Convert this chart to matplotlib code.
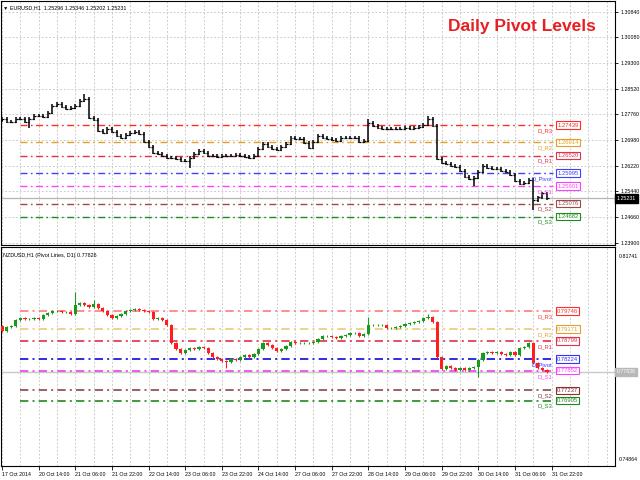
import numpy as np
import matplotlib.pyplot as plt
import matplotlib.transforms as mtransforms

plt.rcParams['font.family'] = ['Liberation Sans', 'DejaVu Sans']

# EURUSD, 2-hour closes
eur_close = [1.2763, 1.2754, 1.2754, 1.2763, 1.2763, 1.2754, 1.2763, 1.2772, 1.2772, 1.2769,
             1.2781, 1.2802, 1.2808, 1.2799, 1.2793, 1.2796, 1.2802, 1.2817, 1.2823, 1.2766,
             1.2760, 1.2727, 1.2721, 1.2733, 1.2724, 1.2712, 1.2706, 1.2715, 1.2721, 1.2724,
             1.2718, 1.2694, 1.2679, 1.2661, 1.2658, 1.2652, 1.2646, 1.2646, 1.2643, 1.2637,
             1.2637, 1.2646, 1.2658, 1.2667, 1.2661, 1.2652, 1.2652, 1.2649, 1.2652, 1.2652,
             1.2652, 1.2655, 1.2652, 1.2649, 1.2646, 1.2652, 1.2673, 1.2688, 1.2679, 1.2673,
             1.2670, 1.2679, 1.2688, 1.2706, 1.2703, 1.2703, 1.2691, 1.2676, 1.2694, 1.2712,
             1.2706, 1.2703, 1.2700, 1.2697, 1.2706, 1.2706, 1.2706, 1.2706, 1.2694, 1.2697,
             1.2751, 1.2742, 1.2736, 1.2733, 1.2733, 1.2733, 1.2733, 1.2733, 1.2736, 1.2733,
             1.2736, 1.2739, 1.2745, 1.2763, 1.2742, 1.2643, 1.2631, 1.2628, 1.2622, 1.2619,
             1.2607, 1.2589, 1.2583, 1.2586, 1.2604, 1.2622, 1.2616, 1.2613, 1.2613, 1.2607,
             1.2604, 1.2595, 1.2577, 1.2568, 1.2571, 1.2580, 1.2517, 1.2526, 1.2538, 1.25231]
eur_open0 = 1.2758
eur_high_spikes = {18: 1.2838, 80: 1.2763, 93: 1.2772, 115: 1.2586}
eur_low_spikes = {6: 1.2736, 41: 1.2616, 103: 1.2562, 116: 1.2487}

# NZDUSD, 2-hour closes
nzd_close = [0.7912, 0.7924, 0.7927, 0.7946, 0.7952, 0.7949, 0.7949, 0.7952, 0.7949, 0.7962,
             0.7968, 0.7975, 0.7975, 0.7971, 0.7971, 0.7965, 0.7994, 0.8000, 0.7994, 0.7987,
             0.7997, 0.7984, 0.7975, 0.7962, 0.7952, 0.7959, 0.7965, 0.7975, 0.7978, 0.7981,
             0.7978, 0.7975, 0.7971, 0.7949, 0.7952, 0.7946, 0.7930, 0.7873, 0.7854, 0.7842,
             0.7851, 0.7857, 0.7854, 0.7861, 0.7857, 0.7842, 0.7829, 0.7823, 0.7816, 0.7813,
             0.7823, 0.7819, 0.7829, 0.7835, 0.7829, 0.7838, 0.7854, 0.7873, 0.7867, 0.7857,
             0.7848, 0.7854, 0.7864, 0.7876, 0.7873, 0.7873, 0.7873, 0.7873, 0.7876, 0.7886,
             0.7895, 0.7895, 0.7892, 0.7889, 0.7895, 0.7899, 0.7905, 0.7905, 0.7895, 0.7902,
             0.7930, 0.7930, 0.7930, 0.7930, 0.7921, 0.7921, 0.7924, 0.7927, 0.7933, 0.7937,
             0.7940, 0.7943, 0.7952, 0.7956, 0.7940, 0.7829, 0.7791, 0.7800, 0.7794, 0.7788,
             0.7794, 0.7788, 0.7794, 0.7797, 0.7819, 0.7842, 0.7845, 0.7842, 0.7845, 0.7838,
             0.7835, 0.7845, 0.7835, 0.7857, 0.7861, 0.7873, 0.7810, 0.7794, 0.7788, 0.77826]
nzd_open0 = 0.7927
nzd_high_spikes = {16: 0.8035, 20: 0.8009, 80: 0.7956, 93: 0.7965}
nzd_low_spikes = {0: 0.7908, 49: 0.7794, 104: 0.7766}

level_names = ['D_R3', 'D_R2', 'D_R1', 'D_Pivot', 'D_S1', 'D_S2', 'D_S3']
eur_levels = [1.27439, 1.26914, 1.26520, 1.25995, 1.25601, 1.25076, 1.24682]
nzd_levels = [0.79746, 0.79171, 0.78799, 0.78224, 0.77852, 0.77237, 0.76905]
eur_price_ticks = [1.30840, 1.30080, 1.29300, 1.28520, 1.27760, 1.26980, 1.26220, 1.25440, 1.24660, 1.23900]
nzd_axis_max, nzd_axis_min = 0.81741, 0.74864
eur_last, nzd_last = 1.25231, 0.77826

date_labels = ['17 Oct 2014', '20 Oct 14:00', '21 Oct 06:00', '21 Oct 22:00', '22 Oct 14:00',
               '23 Oct 06:00', '23 Oct 22:00', '24 Oct 14:00', '27 Oct 06:00', '27 Oct 22:00',
               '28 Oct 14:00', '29 Oct 06:00', '29 Oct 22:00', '30 Oct 14:00', '31 Oct 06:00',
               '31 Oct 22:00']

eur_colors = ['#ff2a2a', '#e0a020', '#e0304a', '#4040ff', '#ff40ff', '#a04848', '#1f8a1f']
nzd_colors = ['#ff7a7a', '#f0c878', '#e0304a', '#0a0ae0', '#e840e8', '#8a4848', '#1f8a1f']
box_colors_nzd = ['#ff3030', '#e0a030', '#e0304a', '#3030ff', '#ff40ff', '#8a3030', '#1f8a1f']

small = 4.2
tiny = 3.8
grid_kw = dict(color='#c4c4c4', lw=0.6, ls=(0, (2.2, 2.2)), zorder=0)


def ohlc(closes, open0, hi_sp, lo_sp, pad):
    c = np.array(closes)
    o = np.r_[open0, c[:-1]]
    h = np.maximum(o, c) + pad
    l = np.minimum(o, c) - pad
    for k, v in hi_sp.items():
        h[k] = v
    for k, v in lo_sp.items():
        l[k] = v
    return o, h, l, c


fig = plt.figure(figsize=(6.4, 4.8), dpi=100)
ax1 = fig.add_axes([1/640, 235/480, 614/640, 244/480])
ax2 = fig.add_axes([1/640, 14/480, 614/640, 219/480])

for ax in (ax1, ax2):
    ax.set_xlim(-0.22, 133.84)
    for s in ax.spines.values():
        s.set_color('black')
        s.set_linewidth(0.8)
    for gx in range(0, 134, 4):
        ax.axvline(gx, **grid_kw)

# ---- EURUSD bars
x = np.arange(len(eur_close))
o, h, l, c = ohlc(eur_close, eur_open0, eur_high_spikes, eur_low_spikes, 0.0004)
ax1.set_ylim(1.23831, 1.31168)
for gy in eur_price_ticks:
    ax1.axhline(gy, **grid_kw)
ax1.axhline(eur_last, color='#b4b4b4', lw=0.9, zorder=1)
ax1.vlines(x, l, h, color='black', lw=1.1, zorder=3)
ax1.hlines(o, x - 0.4, x, color='black', lw=0.9, zorder=3)
ax1.hlines(c, x, x + 0.4, color='black', lw=0.9, zorder=3)

# ---- NZDUSD candles
x2 = np.arange(len(nzd_close))
o2, h2, l2, c2 = ohlc(nzd_close, nzd_open0, nzd_high_spikes, nzd_low_spikes, 0.0003)
ax2.set_ylim(0.74837, 0.81773)
ax2.axhline(nzd_last, color='#c8c8c8', lw=1.0, zorder=1)
cols = np.where(c2 >= o2, '#1a9a1a', '#ff1e1e')
ax2.vlines(x2, l2, h2, color=cols, lw=0.8, zorder=3)
ax2.bar(x2, c2 - o2, bottom=o2, width=0.7, color=cols, zorder=4)

# ---- pivot lines
for ax, levels, lcols, bcols in ((ax1, eur_levels, eur_colors, eur_colors),
                                  (ax2, nzd_levels, nzd_colors, box_colors_nzd)):
    for name, lv, lc, bc in zip(level_names, levels, lcols, bcols):
        lw = 1.0 if ax is ax1 else 1.2
        ax.plot([3.9, 120.3], [lv, lv], color=lc, lw=lw, ls=(0, (5, 2.5, 1.2, 2.5)), zorder=2)
        ax.annotate(name, (120.2, lv), xytext=(0, -4), textcoords='offset points',
                    ha='right', va='center', fontsize=small, color=bc, zorder=5)
        ax.text(121.2, lv, f'{lv:.5f}', ha='left', va='center', fontsize=small, color=bc, zorder=6,
                bbox=dict(boxstyle='square,pad=0.2', fc='white', ec=bc, lw=0.8))

# ---- right price scale
ax1.yaxis.tick_right()
ax1.set_yticks(eur_price_ticks)
ax1.set_yticklabels([f'{t:.5f}' for t in eur_price_ticks])
ax1.tick_params(axis='y', direction='out', length=2.5, width=0.6, labelsize=tiny, pad=1.2)
ax1.tick_params(axis='x', bottom=False, labelbottom=False)
tr1 = mtransforms.blended_transform_factory(ax1.transAxes, ax1.transData)
ax1.text(1.003, eur_last, f'{eur_last:.5f}', transform=tr1, ha='left', va='center',
         fontsize=tiny, color='white', bbox=dict(boxstyle='square,pad=0.3', fc='black', ec='black'))

ax2.yaxis.tick_right()
ax2.set_yticks([])
ax2.text(1.006, 0.97, f'{nzd_axis_max:.5f}', transform=ax2.transAxes, ha='left', va='top', fontsize=tiny)
ax2.text(1.006, 0.02, f'{nzd_axis_min:.5f}', transform=ax2.transAxes, ha='left', va='bottom', fontsize=tiny)
tr2 = mtransforms.blended_transform_factory(ax2.transAxes, ax2.transData)
ax2.text(1.003, nzd_last, f'{nzd_last:.5f}', transform=tr2, ha='left', va='center',
         fontsize=tiny, color='white', bbox=dict(boxstyle='square,pad=0.3', fc='#b8b8b8', ec='#b8b8b8'))

ax2.set_xticks(range(0, 8 * len(date_labels), 8))
ax2.set_xticklabels(date_labels, ha='left')
ax2.tick_params(axis='x', direction='out', length=3, width=0.6, labelsize=tiny, pad=1)

# ---- captions
fig.text(3/640, 1 - 8/480, '\u25bc EURUSD,H1  1.25296 1.25346 1.25202 1.25231', fontsize=3.9, va='center')
fig.text(3/640, 1 - 256/480, 'NZDUSD,H1 (Pivot Lines, D1) 0.77826', fontsize=3.9, va='center')
fig.text(522/640, 1 - 27/480, 'Daily Pivot Levels', fontsize=12.5, fontweight='bold',
         color='#e81e23', ha='center', va='center')

fig.savefig('out.png', dpi=100)
